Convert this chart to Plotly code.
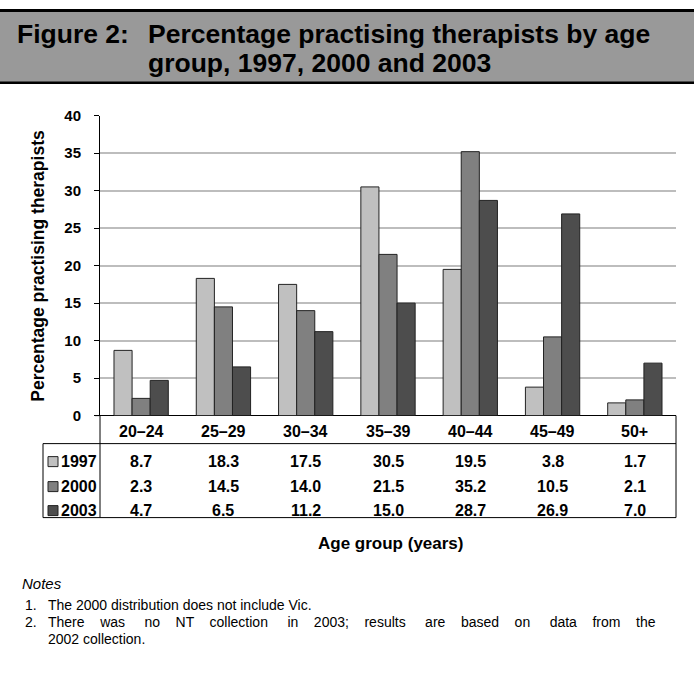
import plotly.graph_objects as go

categories = ["20–24", "25–29", "30–34", "35–39", "40–44", "45–49", "50+"]
years = ["1997", "2000", "2003"]
v1997 = [8.7, 18.3, 17.5, 30.5, 19.5, 3.8, 1.7]
v2000 = [2.3, 14.5, 14.0, 21.5, 35.2, 10.5, 2.1]
v2003 = [4.7, 6.5, 11.2, 15.0, 28.7, 26.9, 7.0]
series = [v1997, v2000, v2003]
colors = ["#c0c0c0", "#808080", "#4d4d4d"]
yticks = [0, 5, 10, 15, 20, 25, 30, 35, 40]

W, H = 694, 675
def PX(x): return x / W
def T(y): return (y - 8.3) / 0.975          # reference reading -> page pixel
def PY(y): return 1 - T(y) / H

X0, X1 = 100, 676
Y0, Y40 = 415, 115

fig = go.Figure()
for name, vals, c in zip(years, series, colors):
    fig.add_trace(go.Bar(x=categories, y=vals, name=name,
                         marker=dict(color=c, line=dict(color="#222222", width=1)),
                         showlegend=False))

BOLD = "Liberation Sans, Arial, sans-serif"
REG = "Liberation Sans, Arial, sans-serif"

shapes = []
annotations = []
def line(x0, y0, x1, y1, w=1):
    shapes.append(dict(type="line", xref="paper", yref="paper", x0=PX(x0), x1=PX(x1), y0=PY(y0), y1=PY(y1),
                       line=dict(color="black", width=w)))
def text(x, y, t, size, family=BOLD, xanchor="left", angle=0):
    annotations.append(dict(xref="paper", yref="paper", x=PX(x), y=PY(y), xanchor=xanchor, yanchor="middle",
                            text=t, showarrow=False, textangle=angle, borderpad=0,
                            font=dict(family=family, size=size, color="black")))

# header band
shapes.append(dict(type="rect", xref="paper", yref="paper", x0=0, x1=1, y0=PY(82), y1=1,
                   fillcolor="#999999", line=dict(width=0), layer="below"))
shapes.append(dict(type="line", xref="paper", yref="paper", x0=0, x1=1, y0=1 - 1.5 / H, y1=1 - 1.5 / H,
                   line=dict(color="black", width=3)))
line(0, 82, 694, 82, 2.5)
text(16, 33, "<b>Figure 2:</b>", 26.5)
text(147, 33, "<b>Percentage practising therapists by age</b>", 26.5)
text(147, 62, "<b>group, 1997, 2000 and 2003</b>", 26.5)

# table lines
line(X1, 517, X1, Y0)
line(X0, 517, X0, Y0)
line(43, 443, X1, 443)
line(43, 517, X1, 517)
line(43, 517, 43, 443)
line(95, Y0, X0, Y0)

colw = (X1 - X0) / len(categories)
row_y = [461, 486, 510]
for i, cat in enumerate(categories):
    cx = X0 + colw * (i + 0.5)
    text(cx, 431, "<b>%s</b>" % cat, 16, xanchor="center")
    for r, vals in enumerate(series):
        text(cx, row_y[r], "<b>%.1f</b>" % vals[i], 16, xanchor="center")
for r, (name, c) in enumerate(zip(years, colors)):
    yc = row_y[r]
    shapes.append(dict(type="rect", xref="paper", yref="paper", x0=PX(48), x1=PX(58), y0=PY(yc + 5), y1=PY(yc - 5),
                       fillcolor=c, line=dict(color="#222222", width=1)))
    text(60, yc, "<b>%s</b>" % name, 16)

# axis titles
text(390, 543, "<b>Age group (years)</b>", 17, xanchor="center")
text(38, 265, "<b>Percentage practising therapists</b>", 17.5, xanchor="center", angle=-90)

# notes
text(21, 583, "<i>Notes</i>", 15, family=REG)
text(24, 604, "1.", 14, family=REG)
text(24, 621, "2.", 14, family=REG)
notes = ["The 2000 distribution does not include Vic.",
         "There was no NT collection in 2003; results are based on data from the",
         "2002 collection."]
note_y = [604, 621, 638]
words = notes[1].split(" ")
just = words[0]
for k, w in enumerate(words[1:]):
    n = 4 if k % 3 == 1 else 3
    just += " " + "&nbsp;" * n + w
notes_display = [notes[0], just, notes[2]]
for t, y in zip(notes_display, note_y):
    text(47, y, t, 14, family=REG)

fig.update_layout(
    width=W, height=H, margin=dict(l=0, r=0, t=0, b=0),
    paper_bgcolor="white", plot_bgcolor="white",
    barmode="group", bargap=0.34, bargroupgap=0,
    shapes=shapes, annotations=annotations,
    xaxis=dict(domain=[PX(X0), PX(X1)], showticklabels=False, showgrid=False, ticks="", showline=False, zeroline=False),
    yaxis=dict(domain=[PY(Y0), PY(Y40)], range=[0, 40], tickvals=yticks, ticktext=["<b>%d</b>" % v for v in yticks],
               showgrid=True, gridcolor="#bdbdbd", gridwidth=1.5, showline=True, linecolor="black", linewidth=1,
               ticks="outside", ticklen=5, tickcolor="black", zeroline=True, zerolinecolor="black", zerolinewidth=1,
               ticklabelstandoff=10, tickfont=dict(family=BOLD, size=15, color="black")),
)
fig.write_html("out.html", config={"displayModeBar": False},
               post_script="document.body.style.margin='0px';document.body.style.overflow='hidden';"
                           "document.documentElement.style.overflow='hidden';")
